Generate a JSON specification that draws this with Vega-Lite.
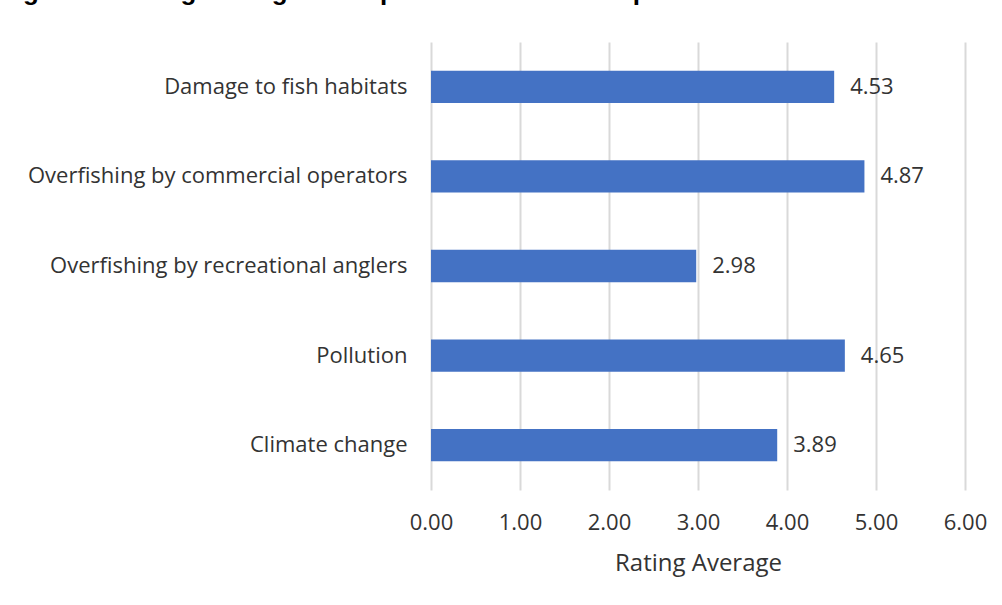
{
  "$schema": "https://vega.github.io/schema/vega-lite/v6.json",
  "width": 534,
  "height": 448,
  "autosize": "none",
  "padding": {"left": 431, "top": 42, "right": 37, "bottom": 115},
  "background": "white",
  "title": {
    "text": "Figure 6. Rating average of responses about the importance of threats to marine fish stocks",
    "anchor": "start",
    "frame": "group",
    "dx": -431,
    "offset": 16,
    "baseline": "alphabetic",
    "font": "Liberation Sans",
    "fontSize": 26,
    "fontWeight": "bold",
    "color": "black"
  },
  "config": {
    "view": {"stroke": null},
    "font": "Open Sans"
  },
  "data": {
    "values": [
      {"category": "Damage to fish habitats", "value": 4.53},
      {"category": "Overfishing by commercial operators", "value": 4.87},
      {"category": "Overfishing by recreational anglers", "value": 2.98},
      {"category": "Pollution", "value": 4.65},
      {"category": "Climate change", "value": 3.89}
    ]
  },
  "encoding": {
    "y": {
      "field": "category",
      "type": "nominal",
      "sort": null,
      "scale": {"paddingInner": 0.64, "paddingOuter": 0.32},
      "axis": {
        "title": null,
        "ticks": false,
        "domain": false,
        "labelFontSize": 22,
        "labelColor": "#333333",
        "labelPadding": 24,
        "labelLimit": 500,
        "labelFont": "Open Sans"
      }
    },
    "x": {
      "field": "value",
      "type": "quantitative",
      "scale": {"domain": [0, 6], "nice": false},
      "axis": {
        "values": [0, 1, 2, 3, 4, 5, 6],
        "format": ".2f",
        "grid": true,
        "gridColor": "#d9d9d9",
        "gridWidth": 2,
        "domain": false,
        "ticks": false,
        "labelFlush": false,
        "labelFontSize": 22,
        "labelColor": "#333333",
        "labelPadding": 22,
        "labelFont": "Open Sans",
        "title": "Rating Average",
        "titleFontSize": 24,
        "titleFontWeight": "normal",
        "titleColor": "#333333",
        "titleFont": "Open Sans",
        "titlePadding": 18
      }
    }
  },
  "layer": [
    {"mark": {"type": "bar", "color": "#4472C4"}},
    {
      "mark": {"type": "text", "align": "left", "baseline": "middle", "dx": 16, "fontSize": 22, "color": "#333333", "font": "Open Sans"},
      "encoding": {"text": {"field": "value", "type": "quantitative", "format": ".2f"}}
    }
  ]
}
